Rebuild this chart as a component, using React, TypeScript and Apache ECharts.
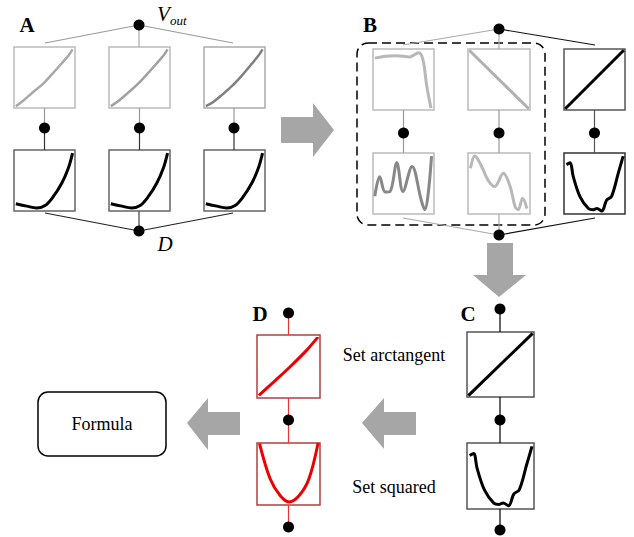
import React, { useEffect, useRef } from "react";
import * as echarts from "echarts";

// ---- curve values (x, y in 0..1 inside each small panel) ----
const aTopLeft = [[0.03, 0.03], [0.15, 0.12], [0.3, 0.25], [0.48, 0.4], [0.62, 0.55], [0.78, 0.73], [0.9, 0.87], [0.96, 0.96]];
const aTopMid = [[0.03, 0.03], [0.16, 0.12], [0.3, 0.24], [0.47, 0.39], [0.62, 0.55], [0.78, 0.73], [0.9, 0.87], [0.96, 0.96]];
const aTopRight = [[0.03, 0.03], [0.14, 0.09], [0.3, 0.22], [0.47, 0.37], [0.62, 0.53], [0.78, 0.72], [0.9, 0.87], [0.96, 0.96]];
const aBottom = [[0.03, 0.12], [0.21, 0.08], [0.37, 0.05], [0.51, 0.09], [0.64, 0.23], [0.78, 0.45], [0.89, 0.7], [0.96, 0.95]];
const bTopLeft = [[0.03, 0.85], [0.2, 0.88], [0.38, 0.89], [0.6, 0.87], [0.75, 0.94], [0.82, 0.82], [0.88, 0.4], [0.95, 0.03]];
const bTopMid = [[0.02, 0.98], [0.98, 0.02]];
const bTopRight = [[0.02, 0.02], [0.98, 0.98]];
const bBottomLeft = [[0.03, 0.29], [0.11, 0.61], [0.2, 0.36], [0.28, 0.37], [0.39, 0.84], [0.49, 0.37], [0.64, 0.78], [0.79, 0.23], [0.85, 0.07], [0.9, 0.29], [0.96, 0.95]];
const bBottomMid = [[0.04, 0.75], [0.11, 0.95], [0.22, 0.78], [0.32, 0.56], [0.43, 0.45], [0.57, 0.67], [0.68, 0.45], [0.76, 0.12], [0.81, 0.07], [0.88, 0.26], [0.95, 0.09]];
const bBottomRight = [[0.04, 0.81], [0.1, 0.84], [0.15, 0.62], [0.26, 0.29], [0.4, 0.09], [0.48, 0.07], [0.54, 0.09], [0.62, 0.05], [0.7, 0.23], [0.78, 0.29], [0.89, 0.67], [0.97, 0.95]];
const dTop = [[0.03, 0.04], [0.26, 0.25], [0.53, 0.5], [0.79, 0.76], [0.97, 0.97]];
const dBottom = [[0.04, 0.99], [0.21, 0.42], [0.37, 0.15], [0.51, 0.05], [0.66, 0.14], [0.82, 0.41], [0.97, 1.0]];

const panelLabels = ["A", "B", "C", "D"];
const stepLabels = ["Set arctangent", "Set squared"];
const resultLabel = "Formula";

// ---- layout (positions/styles only) ----
const panels = [
  { l: 14, t: 47, w: 61, h: 61, border: "#bbbbbb", color: "#a8a8a8", lw: 2.5, data: aTopLeft },
  { l: 109, t: 47, w: 61, h: 61, border: "#bbbbbb", color: "#a0a0a0", lw: 2.5, data: aTopMid },
  { l: 204, t: 47, w: 61, h: 61, border: "#aaaaaa", color: "#808080", lw: 2.5, data: aTopRight },
  { l: 14, t: 150, w: 61, h: 61, border: "#666666", color: "#000000", lw: 3, data: aBottom },
  { l: 109, t: 150, w: 61, h: 61, border: "#666666", color: "#000000", lw: 3, data: aBottom },
  { l: 204, t: 150, w: 61, h: 61, border: "#666666", color: "#000000", lw: 3, data: aBottom },
  { l: 373, t: 49, w: 61, h: 61, border: "#bbbbbb", color: "#b8b8b8", lw: 3, data: bTopLeft },
  { l: 468, t: 49, w: 62, h: 61, border: "#bbbbbb", color: "#b0b0b0", lw: 3, data: bTopMid },
  { l: 564, t: 49, w: 61, h: 61, border: "#555555", color: "#000000", lw: 3, data: bTopRight },
  { l: 373, t: 153, w: 61, h: 61, border: "#bbbbbb", color: "#888888", lw: 3, data: bBottomLeft },
  { l: 468, t: 153, w: 62, h: 61, border: "#bbbbbb", color: "#b8b8b8", lw: 3, data: bBottomMid },
  { l: 564, t: 153, w: 61, h: 61, border: "#333333", color: "#000000", lw: 3, data: bBottomRight },
  { l: 467, t: 332, w: 67, h: 65, border: "#555555", color: "#000000", lw: 3, data: bTopRight },
  { l: 467, t: 443, w: 67, h: 66, border: "#555555", color: "#000000", lw: 3, data: bBottomRight },
  { l: 257, t: 335, w: 63, h: 63, border: "#b04040", color: "#ee0000", lw: 3, data: dTop },
  { l: 257, t: 443, w: 63, h: 62, border: "#b04040", color: "#ee0000", lw: 3, data: dBottom },
];

const SERIF = "Liberation Serif";

function line(x1: number, y1: number, x2: number, y2: number, stroke: string, lw = 1.2) {
  return { type: "line", shape: { x1, y1, x2, y2 }, style: { stroke, lineWidth: lw }, z: 10 };
}
function dot(cx: number, cy: number) {
  return { type: "circle", shape: { cx, cy, r: 5.5 }, style: { fill: "#000" }, z: 20 };
}
function poly(points: number[][]) {
  return { type: "polygon", shape: { points }, style: { fill: "#a6a6a6" }, z: 5 };
}
function text(t: string, x: number, y: number, size: number, weight = "normal", fstyle = "normal", align = "center") {
  return {
    type: "text", z: 30,
    style: {
      text: t, x, y, fontFamily: SERIF, fontSize: size, fontWeight: weight, fontStyle: fstyle,
      fill: "#000", textAlign: align, textVerticalAlign: "middle",
    },
  };
}

const App = () => {
  const ref = useRef<HTMLDivElement>(null);
  useEffect(() => {
    document.body.style.margin = "0";
    const chart = echarts.init(ref.current as HTMLDivElement, null, { renderer: "svg" });

    const grid = panels.map((p) => ({
      left: p.l, top: p.t, width: p.w, height: p.h, show: true,
      borderColor: p.border, borderWidth: 1.5, backgroundColor: "transparent",
    }));
    const xAxis = panels.map((_, i) => ({ type: "value", gridIndex: i, min: 0, max: 1, show: false }));
    const yAxis = panels.map((_, i) => ({ type: "value", gridIndex: i, min: 0, max: 1, show: false }));
    const series = panels.map((p, i) => ({
      type: "line", xAxisIndex: i, yAxisIndex: i, data: p.data,
      smooth: p.data.length > 2 ? 0.35 : false, showSymbol: false, symbol: "none",
      lineStyle: { color: p.color, width: p.lw }, z: 3,
    }));

    const g = "#9a9a9a";
    const graphic: any[] = [
      // Panel A connections
      line(139, 25, 45, 43, g), line(139, 25, 233, 43, g), line(139, 25, 139, 47, "#aaa"),
      line(44.5, 108, 44.5, 128, "#999"), line(139.5, 108, 139.5, 128, "#999"), line(234, 108, 234, 128, "#999"),
      line(44.5, 128, 44.5, 150, "#333"), line(139.5, 128, 139.5, 150, "#333"), line(234, 128, 234, 150, "#333"),
      line(139, 231, 45, 213, "#222"), line(139, 231, 233, 213, "#222"), line(139, 211, 139, 231, "#444"),
      dot(139, 25), dot(44.5, 128), dot(139.5, 128), dot(234, 128), dot(139, 231),
      // Panel B connections
      line(499, 29, 403, 45, "#aaa"), line(499, 29, 595, 45, "#111"), line(499, 29, 499, 49, "#aaa"),
      line(403.5, 110, 403.5, 153, "#999"), line(499, 110, 499, 153, "#999"), line(594.5, 110, 594.5, 153, "#555"),
      line(499, 235, 403, 218, "#aaa"), line(499, 235, 595, 218, "#111"), line(499, 214, 499, 235, "#aaa"),
      dot(499, 29), dot(403.5, 133), dot(499, 133), dot(594.5, 133), dot(499, 235),
      {
        type: "rect", shape: { x: 357, y: 43, width: 188, height: 182, r: 11 },
        style: { fill: "none", stroke: "#000", lineWidth: 1.5, lineDash: [9, 5] }, z: 8,
      },
      // Panel C connections
      line(500, 309, 500, 332, "#000"), line(500, 397, 500, 443, "#000"), line(500, 509, 500, 530, "#000"),
      dot(500, 309), dot(500, 420), dot(500, 530),
      // Panel D connections
      line(288.5, 313, 288.5, 335, "#e33"), line(288.5, 398, 288.5, 443, "#e33"), line(288.5, 505, 288.5, 527, "#e33"),
      dot(288.5, 313), dot(288.5, 420), dot(288.5, 527),
      // Arrows
      poly([[281, 117], [313, 117], [313, 103], [334, 130], [313, 157], [313, 143], [281, 143]]),
      poly([[487, 243], [513, 243], [513, 275], [526, 275], [499, 297], [473, 275], [487, 275]]),
      poly([[416, 412], [384, 412], [384, 398], [362, 423], [384, 449], [384, 435], [416, 435]]),
      poly([[240, 412], [208, 412], [208, 398], [187, 423], [208, 450], [208, 435], [240, 435]]),
      // Formula box
      {
        type: "rect", shape: { x: 38, y: 392, width: 128, height: 64, r: 10 },
        style: { fill: "#fff", stroke: "#000", lineWidth: 1.5 }, z: 8,
      },
      text(resultLabel, 102, 424, 18),
      // Labels
      text(panelLabels[0], 27, 25, 21, "bold"),
      text(panelLabels[1], 370, 25, 21, "bold"),
      text(panelLabels[2], 468, 314, 21, "bold"),
      text(panelLabels[3], 260, 314, 21, "bold"),
      text(stepLabels[0], 394, 355, 18),
      text(stepLabels[1], 394, 487, 18),
      text("V", 157, 14, 21, "normal", "italic", "left"),
      text("out", 170, 20, 13, "normal", "italic", "left"),
      text("D", 165, 244, 21, "normal", "italic"),
    ];

    chart.setOption({
      animation: false,
      backgroundColor: "#fff",
      grid, xAxis, yAxis, series, graphic,
    });
    return () => chart.dispose();
  }, []);
  return <div ref={ref} style={{ width: 634, height: 537, position: "absolute", left: 0, top: 0 }} />;
};

export default App;
